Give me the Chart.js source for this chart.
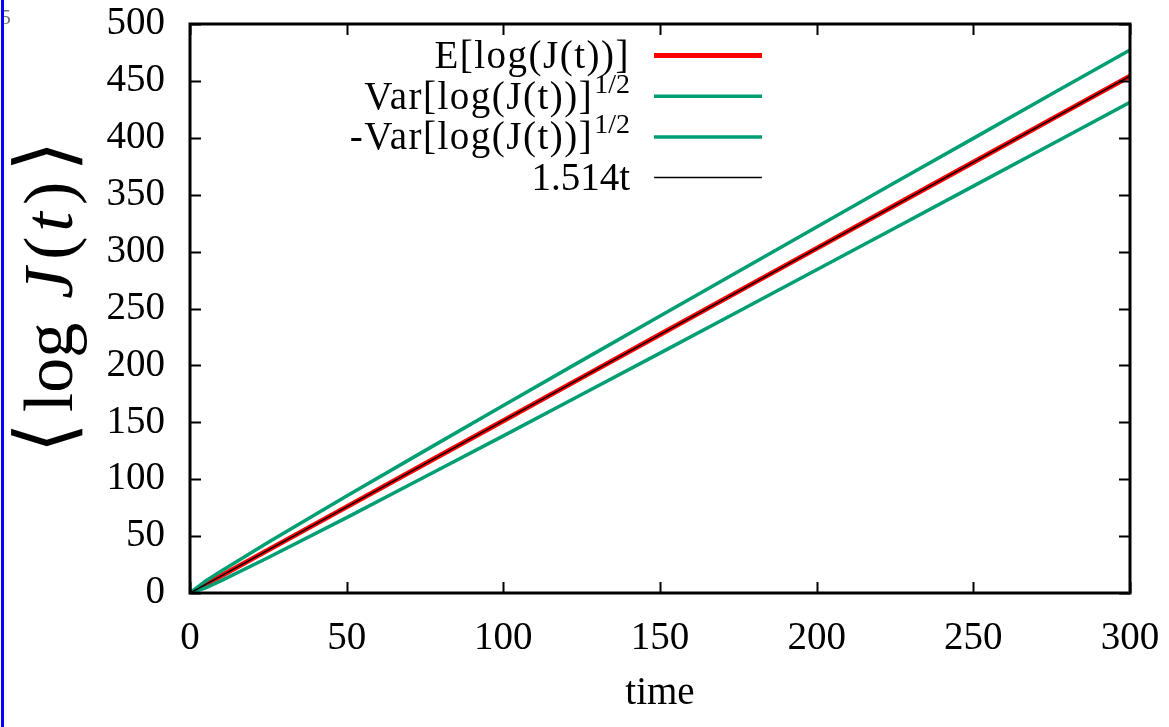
<!DOCTYPE html>
<html>
<head>
<meta charset="utf-8">
<script src="https://cdn.jsdelivr.net/npm/chart.js@4.4.1/dist/chart.umd.min.js"></script>
<style>
  html, body { margin: 0; padding: 0; background: #fff; }
  #wrap { width: 1169px; height: 727px; position: relative; }
</style>
</head>
<body>
<div id="wrap"><canvas id="chart" width="1169" height="727"></canvas></div>
<script>
// values
const times = [0, 5, 10, 25, 50, 75, 100, 125, 150, 175, 200, 225, 250, 275, 300];
const meanLog = [0, 7.6, 15.1, 37.9, 75.7, 113.6, 151.4, 189.3, 227.1, 265.0, 302.8, 340.7, 378.5, 416.4, 454.2];
const upperLog = [0, 10.6, 19.3, 44.6, 85.2, 125.1, 164.7, 204.2, 243.4, 282.6, 321.6, 360.7, 399.5, 438.4, 477.2];
const lowerLog = [0, 4.6, 10.9, 31.2, 66.2, 102.1, 138.1, 174.4, 210.8, 247.4, 284.0, 320.7, 357.5, 394.4, 431.2];
const fitTimes = [0, 300];
const fitLog = [0, 454.2];

const xTicks = [0, 50, 100, 150, 200, 250, 300];
const yTicks = [0, 50, 100, 150, 200, 250, 300, 350, 400, 450, 500];

const legendText = ["E[log(J(t))]", "Var[log(J(t))]", "-Var[log(J(t))]", "1.514t"];
const legendSup = ["", "1/2", "1/2", ""];

const RED = "#ff0000";
const GREEN = "#009e73";
const SERIF = "'Liberation Serif', 'Times New Roman', serif";

function pts(xs, ys) {
  return xs.map((x, i) => ({ x: x, y: ys[i] }));
}

// frame + gnuplot style inward ticks on all four sides
const framePlugin = {
  id: "frame",
  afterDatasetsDraw(chart) {
    const ctx = chart.ctx;
    const a = chart.chartArea;
    const xs = chart.scales.x, ys = chart.scales.y;
    ctx.save();
    ctx.strokeStyle = "#000";
    ctx.lineWidth = 2;
    ctx.beginPath();
    xTicks.forEach(v => {
      const px = Math.round(xs.getPixelForValue(v)) + 0.5;
      ctx.moveTo(px, a.bottom); ctx.lineTo(px, a.bottom - 11);
      ctx.moveTo(px, a.top); ctx.lineTo(px, a.top + 11);
    });
    yTicks.forEach(v => {
      const py = Math.round(ys.getPixelForValue(v)) + 0.5;
      ctx.moveTo(a.left, py); ctx.lineTo(a.left + 11, py);
      ctx.moveTo(a.right, py); ctx.lineTo(a.right - 11, py);
    });
    ctx.stroke();
    ctx.lineWidth = 3;
    ctx.strokeRect(a.left, a.top, a.right - a.left, a.bottom - a.top);
    ctx.restore();
  },
  afterDraw(chart) {
    const ctx = chart.ctx;
    ctx.save();

    // legend, gnuplot style: right aligned text then a line sample
    const ds = chart.data.datasets;
    const order = [3, 0, 1, 2];
    const textRight = 630, lineX0 = 654, lineX1 = 762;
    legendText.forEach((txt, i) => {
      const rowY = 55 + i * 40.7;
      const d = ds[order[i]];
      let right = textRight;
      ctx.fillStyle = "#000";
      ctx.textBaseline = "alphabetic";
      ctx.textAlign = "right";
      ctx.letterSpacing = "0px";
      if (legendSup[i]) {
        ctx.font = "28px " + SERIF;
        ctx.fillText(legendSup[i], right, rowY - 3);
        right -= ctx.measureText(legendSup[i]).width + 1;
      }
      ctx.font = "39px " + SERIF;
      if (txt.indexOf("[") >= 0) ctx.letterSpacing = "1.5px";
      ctx.fillText(txt, right, rowY + 13);
      ctx.letterSpacing = "0px";
      ctx.strokeStyle = d.borderColor;
      ctx.lineWidth = d.borderWidth;
      ctx.beginPath();
      ctx.moveTo(lineX0, rowY + 0.5);
      ctx.lineTo(lineX1, rowY + 0.5);
      ctx.stroke();
    });

    // y axis label <log J(t)>, pieces with TeX-like gaps
    const F = "70px " + SERIF;
    const FI = "italic 70px " + SERIF;
    const FB = "80px 'DejaVu Serif', " + SERIF;
    const parts = [
      ["\u27E8", FB, 10],
      ["log", F, 24],
      ["J", FI, 8],
      ["(", F, 5],
      ["t", FI, 7],
      [")", F, 10],
      ["\u27E9", FB, 0]
    ];
    let total = 0;
    parts.forEach(p => { ctx.font = p[1]; total += ctx.measureText(p[0]).width + p[2]; });
    ctx.translate(72, 297);
    ctx.rotate(-Math.PI / 2);
    ctx.textAlign = "left";
    ctx.textBaseline = "alphabetic";
    let x = -total / 2;
    parts.forEach(p => {
      ctx.font = p[1];
      ctx.fillText(p[0], x, 0);
      x += ctx.measureText(p[0]).width + p[2];
    });
    ctx.restore();

    // stray marks at the left edge of the reference
    ctx.save();
    ctx.fillStyle = "#777";
    ctx.font = "22px " + SERIF;
    ctx.textAlign = "left";
    ctx.textBaseline = "alphabetic";
    ctx.fillText("5", 0, 24);
    ctx.fillStyle = "#0000ff";
    ctx.fillRect(1, 0, 3, 727);
    ctx.restore();
  }
};

const ctx = document.getElementById("chart").getContext("2d");
new Chart(ctx, {
  type: "line",
  data: {
    datasets: [
      { label: legendText[1], data: pts(times, upperLog), borderColor: GREEN, borderWidth: 3.5 },
      { label: legendText[2], data: pts(times, lowerLog), borderColor: GREEN, borderWidth: 3.5 },
      { label: legendText[3], data: pts(fitTimes, fitLog), borderColor: "#000", borderWidth: 1.5, order: -1 },
      { label: legendText[0], data: pts(times, meanLog), borderColor: RED, borderWidth: 5 }
    ]
  },
  options: {
    responsive: false,
    animation: false,
    parsing: false,
    elements: { point: { radius: 0 }, line: { tension: 0, borderCapStyle: "butt" } },
    layout: { padding: { top: 24, right: 39, left: 0, bottom: 0 } },
    plugins: { legend: { display: false }, tooltip: { enabled: false } },
    scales: {
      x: {
        type: "linear", min: 0, max: 300,
        afterBuildTicks: s => { s.ticks = xTicks.map(v => ({ value: v })); },
        afterFit: s => { s.height = 134; s.paddingLeft = 0; s.paddingRight = 0; },
        grid: { display: false, drawTicks: false },
        border: { display: false },
        ticks: { padding: 22, color: "#000", font: { family: SERIF, size: 39 }, maxRotation: 0 },
        title: { display: true, text: "time", color: "#000", font: { family: SERIF, size: 39 }, padding: { top: 0, bottom: 10 } }
      },
      y: {
        type: "linear", min: 0, max: 500,
        afterBuildTicks: s => { s.ticks = yTicks.map(v => ({ value: v })); },
        afterFit: s => { s.width = 190; s.paddingTop = 0; s.paddingBottom = 0; },
        grid: { display: false, drawTicks: false },
        border: { display: false },
        ticks: { padding: 25, color: "#000", font: { family: SERIF, size: 39 } }
      }
    }
  },
  plugins: [framePlugin]
});
</script>
</body>
</html>
